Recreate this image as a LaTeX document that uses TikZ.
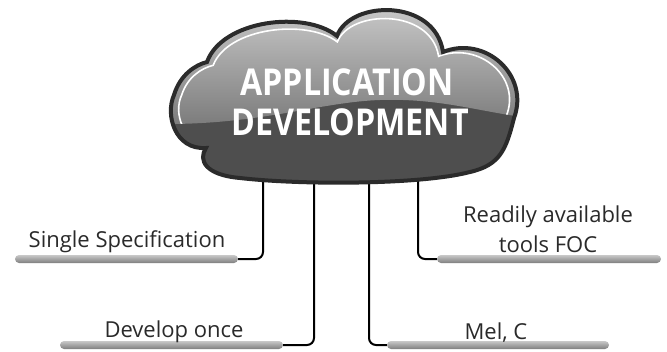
\documentclass[tikz,border=0pt]{standalone}
\usepackage{fontspec}
\setmainfont{Open Sans}
\usetikzlibrary{positioning}
\definecolor{cloudedge}{HTML}{2B2B2B}
\definecolor{clouddark}{HTML}{4E4E4E}
\definecolor{cloudlight}{HTML}{CFCFCF}
\definecolor{cloudmid}{HTML}{7C7C7C}
\definecolor{barlight}{HTML}{C8C8C8}
\definecolor{bardark}{HTML}{7E7E7E}
\definecolor{txt}{HTML}{2A2A2A}
\tikzset{
  bar/.style={rectangle, rounded corners=4pt, minimum height=8pt, inner sep=0pt,
    top color=barlight, bottom color=bardark, draw=none},
  conn/.style={draw=black, line width=2pt, rounded corners=7pt},
  lbl/.style={font=\fontsize{22}{26}\selectfont, text=txt, anchor=base, align=center},
  title/.style={font=\fontsize{37}{40}\selectfont\bfseries, text=white, anchor=base}
}
\newcommand{\narrow}[1]{\scalebox{0.87}[1]{#1}}
\begin{document}
\begin{tikzpicture}[x=1pt,y=-1pt]
\useasboundingbox (0,0) rectangle (667,351);
\def\cloudpath{(207,62) .. controls (222,20) and (305,10) .. (337,36)
 .. controls (350,0) and (435,-2) .. (443,52)
 .. controls (485,35) and (530,75) .. (514,118)
 .. controls (506,150) and (500,165) .. (470,172)
 .. controls (420,185) and (300,185) .. (240,178)
 .. controls (205,175) and (198,160) .. (206,148)
 .. controls (175,150) and (165,115) .. (174,95)
 .. controls (180,75) and (195,65) .. (207,62) -- cycle}
% connectors from cloud bottom
\coordinate (c1) at (263,170);
\coordinate (c2) at (314,170);
\coordinate (c3) at (369,170);
\coordinate (c4) at (418,170);
% bars
\node[bar, minimum width=223pt] (b1) at (126.5,259) {};
\node[bar, minimum width=223pt] (b2) at (171.5,345) {};
\node[bar, minimum width=222pt] (b3) at (498,345) {};
\node[bar, minimum width=224pt] (b4) at (549,259) {};
\draw[conn] (c1) |- (b1.east);
\draw[conn] (c2) |- (b2.east);
\draw[conn] (c3) |- (b3.west);
\draw[conn] (c4) |- (b4.west);
% cloud
\fill[clouddark] \cloudpath;
\begin{scope}
\clip \cloudpath;
\shade[top color=cloudlight, bottom color=cloudmid]
  (160,-5) -- (530,-5) -- (530,118) .. controls (480,112) and (440,98) .. (380,100)
  .. controls (320,102) and (260,125) .. (160,124) -- cycle;
\clip (160,-5) -- (530,-5) -- (530,118) .. controls (480,112) and (440,98) .. (380,100)
  .. controls (320,102) and (260,125) .. (160,124) -- cycle;
\draw[white, line width=1.6pt, shift={(345,95)}, xscale=0.955, yscale=0.9, shift={(-345,-95)}] \cloudpath;
\end{scope}
\draw[cloudedge, line width=4pt] \cloudpath;
\node[title] (t1) at (347,95) {\narrow{APPLICATION}};
\node[title] (t2) at (350,135) {\narrow{DEVELOPMENT}};
% labels
\node[lbl] (l1) at (127,247) {Single Specification};
\node[lbl] (l2) at (174,337) {Develop once};
\node[lbl] (l3) at (548,222) {Readily available};
\node[lbl] (l4) at (548,252) {tools FOC};
\node[lbl] (l5) at (496,339) {Mel, C};
\end{tikzpicture}
\end{document}
